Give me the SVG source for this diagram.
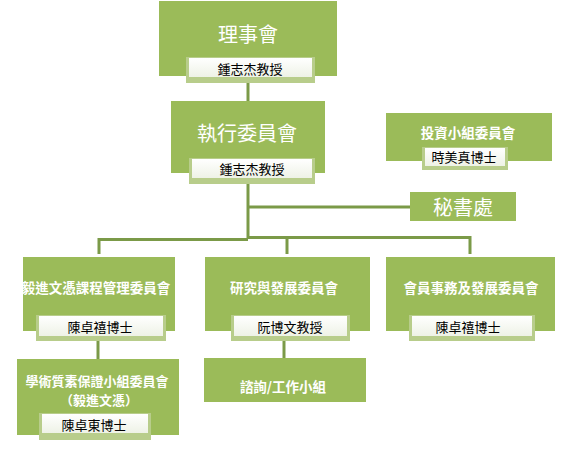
<svg xmlns="http://www.w3.org/2000/svg" width="567" height="453" viewBox="0 0 567 453">
<defs>
<linearGradient id="lg" x1="0" y1="0" x2="0" y2="1">
<stop offset="0" stop-color="#ffffff"/>
<stop offset="1" stop-color="#eef2e6"/>
</linearGradient>
</defs>
<style>
.box{fill:#9bbb59}
.rim{fill:#b8cd8b}
.lab{fill:url(#lg)}
.big{font-family:"Noto Sans CJK TC","Noto Sans CJK SC",sans-serif;font-size:20px;fill:#ffffff;text-anchor:middle;dominant-baseline:central}
.ttl{font-family:"Noto Sans CJK TC","Noto Sans CJK SC",sans-serif;font-size:13.5px;font-weight:bold;fill:#ffffff;text-anchor:middle;dominant-baseline:central}
.t2{font-size:13px}
.nm{font-family:"Noto Sans CJK TC","Noto Sans CJK SC",sans-serif;font-size:13px;fill:#000000;text-anchor:middle;dominant-baseline:central}
.cn{stroke:#7b9a48;stroke-width:3;fill:none}
</style>
<rect width="567" height="453" fill="#ffffff"/>
<g id="connectors">
<path class="cn" d="M248 76 V101"/>
<path class="cn" d="M248 173 V239"/>
<path class="cn" d="M248 207 H410"/>
<path class="cn" d="M99 254 V239.5 H248"/>
<path class="cn" d="M248 237.5 H470 V254"/>
<path class="cn" d="M287 237.5 V254"/>
<path class="cn" d="M98 331 V359"/>
<path class="cn" d="M284 331 V358"/>
</g>
<g id="n1">
<rect class="box" x="159" y="1" width="178" height="75"/>
<text class="big" x="248" y="33">理事會</text>
<rect class="rim" x="186" y="57" width="129" height="26"/>
<rect class="lab" x="189" y="58" width="123" height="19"/>
<text class="nm" x="250" y="68">鍾志杰教授</text>
</g>
<g id="n2">
<rect class="box" x="171" y="101" width="154" height="72"/>
<text class="big" x="247" y="132">執行委員會</text>
<rect class="rim" x="189" y="158" width="126" height="26"/>
<rect class="lab" x="192" y="159" width="120" height="19"/>
<text class="nm" x="252" y="168">鍾志杰教授</text>
</g>
<g id="n3">
<rect class="box" x="386" y="113" width="166" height="48"/>
<text class="ttl" x="468" y="132">投資小組委員會</text>
<rect class="rim" x="422" y="147" width="86" height="23"/>
<rect class="lab" x="425" y="148" width="80" height="18"/>
<text class="nm" x="464" y="156">時美真博士</text>
</g>
<g id="n4">
<rect class="box" x="410" y="192" width="106" height="29"/>
<text class="big" x="463" y="206">秘書處</text>
</g>
<g id="n5">
<rect class="box" x="23" y="257" width="152" height="74"/>
<text class="ttl" x="96" y="287">毅進文憑課程管理委員會</text>
<rect class="rim" x="36" y="315" width="130" height="26"/>
<rect class="lab" x="39" y="316" width="124" height="20"/>
<text class="nm" x="100" y="326">陳卓禧博士</text>
</g>
<g id="n6">
<rect class="box" x="205" y="257" width="165" height="74"/>
<text class="ttl" x="284" y="287">研究與發展委員會</text>
<rect class="rim" x="231" y="315" width="119" height="26"/>
<rect class="lab" x="234" y="316" width="113" height="20"/>
<text class="nm" x="290" y="326">阮博文教授</text>
</g>
<g id="n7">
<rect class="box" x="386" y="257" width="169" height="74"/>
<text class="ttl" x="471" y="287">會員事務及發展委員會</text>
<rect class="rim" x="409" y="315" width="126" height="26"/>
<rect class="lab" x="412" y="316" width="120" height="20"/>
<text class="nm" x="468" y="326">陳卓禧博士</text>
</g>
<g id="n8">
<rect class="box" x="17" y="359" width="162" height="76"/>
<text class="ttl t2" x="97" y="380">學術質素保證小組委員會</text>
<text class="ttl t2" x="99" y="399">（毅進文憑）</text>
<rect class="rim" x="39" y="413" width="112" height="27"/>
<rect class="lab" x="42" y="414" width="106" height="19"/>
<text class="nm" x="94" y="424">陳卓東博士</text>
</g>
<g id="n9">
<rect class="box" x="204" y="358" width="162" height="44"/>
<text class="ttl" x="283" y="386">諮詢/工作小組</text>
</g>
</svg>
